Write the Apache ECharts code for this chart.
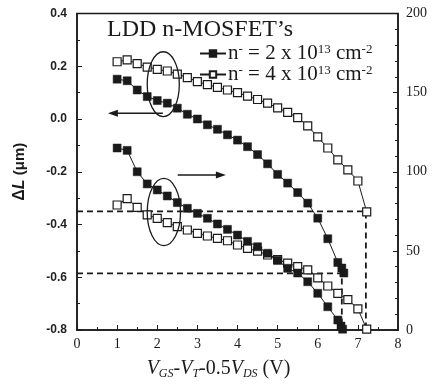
<!DOCTYPE html>
<html>
<head>
<meta charset="utf-8">
<script src="https://cdn.jsdelivr.net/npm/echarts@6/dist/echarts.min.js"></script>
<style>html,body{margin:0;padding:0;background:#fff}#c{width:435px;height:385px}</style>
</head>
<body>
<div id="c"></div>
<script>
// ---- data ----
const xTicks = [0,1,2,3,4,5,6,7,8];
const leftTicks = [-0.8,-0.6,-0.4,-0.2,0.0,0.2,0.4];
const rightTicks = [0,50,100,150,200];

const nameA = 'n- = 2 x 10^13 cm^-2';
const nameB = 'n- = 4 x 10^13 cm^-2';
const legendRich = {
  nameA:'{m|n}{p|-}{m| = 2 x 10}{p|13}{m| cm}{p|-2}',
  nameB:'{m|n}{p|-}{m| = 4 x 10}{p|13}{m| cm}{p|-2}'
};

// ΔL (left axis), n- = 2e13 (filled)
const xA = [1.0,1.25,1.5,1.75,2.0,2.25,2.5,2.75,3.0,3.25,3.5,3.75,4.0,4.25,4.5,4.75,5.0,5.25,5.5,5.75,6.0,6.25,6.5,6.6,6.65];
const yA = [0.151,0.145,0.11,0.085,0.07,0.06,0.041,0.018,0.0,-0.022,-0.039,-0.06,-0.08,-0.105,-0.135,-0.17,-0.21,-0.243,-0.279,-0.319,-0.376,-0.454,-0.544,-0.565,-0.584];
// ΔL (left axis), n- = 4e13 (open)
const xB = [1.0,1.25,1.5,1.75,2.0,2.25,2.5,2.75,3.0,3.25,3.5,3.75,4.0,4.25,4.5,4.75,5.0,5.25,5.5,5.75,6.0,6.25,6.5,6.75,7.0,7.22];
const yB = [0.217,0.224,0.21,0.197,0.188,0.182,0.17,0.157,0.142,0.13,0.12,0.11,0.1,0.087,0.074,0.06,0.042,0.025,0.005,-0.026,-0.068,-0.11,-0.155,-0.193,-0.235,-0.352];
// right axis, n- = 2e13 (filled)
const xC = [1.0,1.25,1.5,1.75,2.0,2.25,2.5,2.75,3.0,3.25,3.5,3.75,4.0,4.25,4.5,4.75,5.0,5.25,5.5,5.75,6.0,6.25,6.5,6.58,6.62];
const yC = [115,113.5,100,92.3,88.5,84.7,80.5,76.9,73.7,70.6,67,63.6,60,56,52.6,48.5,44,39,36,30.5,23.2,14.7,6.3,2.5,0.5];
// right axis, n- = 4e13 (open)
const xD = [1.0,1.25,1.5,1.75,2.0,2.25,2.5,2.75,3.0,3.25,3.5,3.75,4.0,4.25,4.5,4.75,5.0,5.25,5.5,5.75,6.0,6.25,6.5,6.75,7.0,7.22];
const yD = [79,83,77.5,72.7,70.6,67.8,65.3,63.2,61.1,59.4,57.9,56.4,53.7,51.6,49.8,47.4,44.5,42.2,40,38,33,27.8,23.2,19.2,13.4,0.5];

// dashed guide lines (left axis units)
const guide1X = [0,7.2,7.2];
const guide1Y = [-0.35,-0.35,-0.8];
const guide2X = [0,6.6,6.6];
const guide2Y = [-0.585,-0.585,-0.8];

// annotation ellipses [xMin,xMax,yMin,yMax] and arrows [x0,x1,y] (left-axis units)
const ell1 = [1.75,2.55,0.009,0.255];
const ell2 = [1.75,2.58,-0.48,-0.225];
const arrow1 = [2.14,0.77,0.022];
const arrow2 = [2.51,3.71,-0.212];

const zip = (xs, ys) => xs.map((x,i)=>[x, ys[i]]);

const chart = echarts.init(document.getElementById('c'));
const serif = 'Liberation Serif';
const ink = '#1a1a1a';
const filledStyle = {color:ink, borderColor:ink, borderWidth:0.5};
const openStyle = {color:'#fff', borderColor:ink, borderWidth:1.2};
const lineSt = {color:ink, width:1};

chart.setOption({
  animation:false,
  backgroundColor:'#fff',
  title:{
    text:'LDD n-MOSFET\u2019s', left:102, top:13,
    textStyle:{fontFamily:serif, fontSize:24, fontWeight:'normal', color:ink}
  },
  legend:{
    data:[nameA, nameB], orient:'vertical', left:194, top:38, itemGap:0,
    itemWidth:26, itemHeight:8,
    formatter:n => n === nameA ? legendRich.nameA : legendRich.nameB,
    textStyle:{color:ink, padding:[0,0,0,-3], rich:{
      m:{fontFamily:serif, fontSize:21, lineHeight:21, color:ink},
      p:{fontFamily:serif, fontSize:13, lineHeight:13, verticalAlign:'top', color:ink, padding:[0,0,6,0]}
    }}
  },
  grid:{left:77, right:37, top:13.5, bottom:55, show:true, borderColor:ink, borderWidth:1.5, backgroundColor:'transparent'},
  xAxis:{
    type:'value', min:0, max:8, interval:1,
    axisLine:{onZero:false, lineStyle:{color:ink, width:1.5}},
    axisTick:{inside:true, length:5, lineStyle:{color:ink}},
    minorTick:{show:true, splitNumber:2, length:3, lineStyle:{color:ink}},
    splitLine:{show:false},
    axisLabel:{fontFamily:serif, fontSize:14, color:ink, margin:7},
    name:'{i|V}{s|GS}{n|-}{i|V}{s|T}{n|-0.5}{i|V}{s|DS}{n| (V)}',
    nameLocation:'middle', nameGap:28,
    nameTextStyle:{
      padding:[0,38,0,0],
      rich:{
        i:{fontFamily:serif, fontStyle:'italic', fontSize:20, lineHeight:22, color:ink},
        n:{fontFamily:serif, fontSize:20, lineHeight:22, color:ink},
        s:{fontFamily:serif, fontStyle:'italic', fontSize:12, lineHeight:12, verticalAlign:'bottom', color:ink}
      }
    }
  },
  yAxis:[{
    type:'value', min:-0.8, max:0.4, interval:0.2, position:'left',
    axisLine:{show:true, onZero:false, lineStyle:{color:ink, width:1.5}},
    axisTick:{inside:true, length:5, lineStyle:{color:ink}},
    minorTick:{show:true, splitNumber:2, length:3, lineStyle:{color:ink}},
    splitLine:{show:false},
    axisLabel:{fontFamily:'Liberation Sans', fontWeight:'bold', fontSize:12, color:'#222', margin:10,
      formatter:v=>v.toFixed(1)},
    name:'{d|\u0394}{i|L}{n| (\u03BCm)}', nameLocation:'middle', nameGap:49,
    nameTextStyle:{rich:{
      d:{fontFamily:'Liberation Sans', fontWeight:'bold', fontSize:16, color:ink},
      i:{fontFamily:'Liberation Sans', fontWeight:'bold', fontStyle:'italic', fontSize:16, color:ink},
      n:{fontFamily:'Liberation Sans', fontWeight:'bold', fontSize:15, color:ink}
    }}
  },{
    type:'value', min:0, max:200, interval:50, position:'right',
    axisLine:{show:true, onZero:false, lineStyle:{color:ink, width:1.5}},
    axisTick:{inside:true, length:5, lineStyle:{color:ink}},
    minorTick:{show:true, splitNumber:5, length:3, lineStyle:{color:ink}},
    splitLine:{show:false},
    axisLabel:{fontFamily:serif, fontSize:14, color:ink, margin:8}
  }],
  series:[
    {name:'g1', type:'line', data:zip(guide1X,guide1Y), symbol:'none', silent:true,
      lineStyle:{color:ink, width:1.8, type:[6,4]}},
    {name:'g2', type:'line', data:zip(guide2X,guide2Y), symbol:'none', silent:true,
      lineStyle:{color:ink, width:1.8, type:[6,4]}},
    {name:nameB, type:'line', yAxisIndex:0, data:zip(xB,yB), symbol:'rect', symbolSize:8, lineStyle:lineSt, itemStyle:openStyle, z:3},
    {name:nameA, type:'line', yAxisIndex:0, data:zip(xA,yA), symbol:'rect', symbolSize:8, lineStyle:lineSt, itemStyle:filledStyle, z:4},
    {name:nameB, type:'line', yAxisIndex:1, data:zip(xD,yD), symbol:'rect', symbolSize:8, lineStyle:lineSt, itemStyle:openStyle, z:3},
    {name:nameA, type:'line', yAxisIndex:1, data:zip(xC,yC), symbol:'rect', symbolSize:8, lineStyle:lineSt, itemStyle:filledStyle, z:4}
  ]
});

function P(x,y){ return chart.convertToPixel({xAxisIndex:0, yAxisIndex:0}, [x,y]); }
function ellipse(e){
  const a = P(e[0], e[2]), b = P(e[1], e[3]);
  return {type:'ellipse', shape:{cx:(a[0]+b[0])/2, cy:(a[1]+b[1])/2, rx:Math.abs(b[0]-a[0])/2, ry:Math.abs(b[1]-a[1])/2},
    style:{fill:'none', stroke:ink, lineWidth:1.3}, z:10};
}
function arrow(ar){
  const s = P(ar[0], ar[2]), t = P(ar[1], ar[2]);
  const dir = Math.sign(t[0]-s[0]);
  return [
    {type:'line', shape:{x1:s[0], y1:s[1], x2:t[0]-dir*6, y2:t[1]}, style:{stroke:ink, lineWidth:1.5}, z:10},
    {type:'polygon', shape:{points:[[t[0],t[1]],[t[0]-dir*10,t[1]-3.5],[t[0]-dir*10,t[1]+3.5]]}, style:{fill:ink}, z:10}
  ];
}
chart.setOption({graphic:[ellipse(ell1), ellipse(ell2)].concat(arrow(arrow1), arrow(arrow2))});
</script>
</body>
</html>
